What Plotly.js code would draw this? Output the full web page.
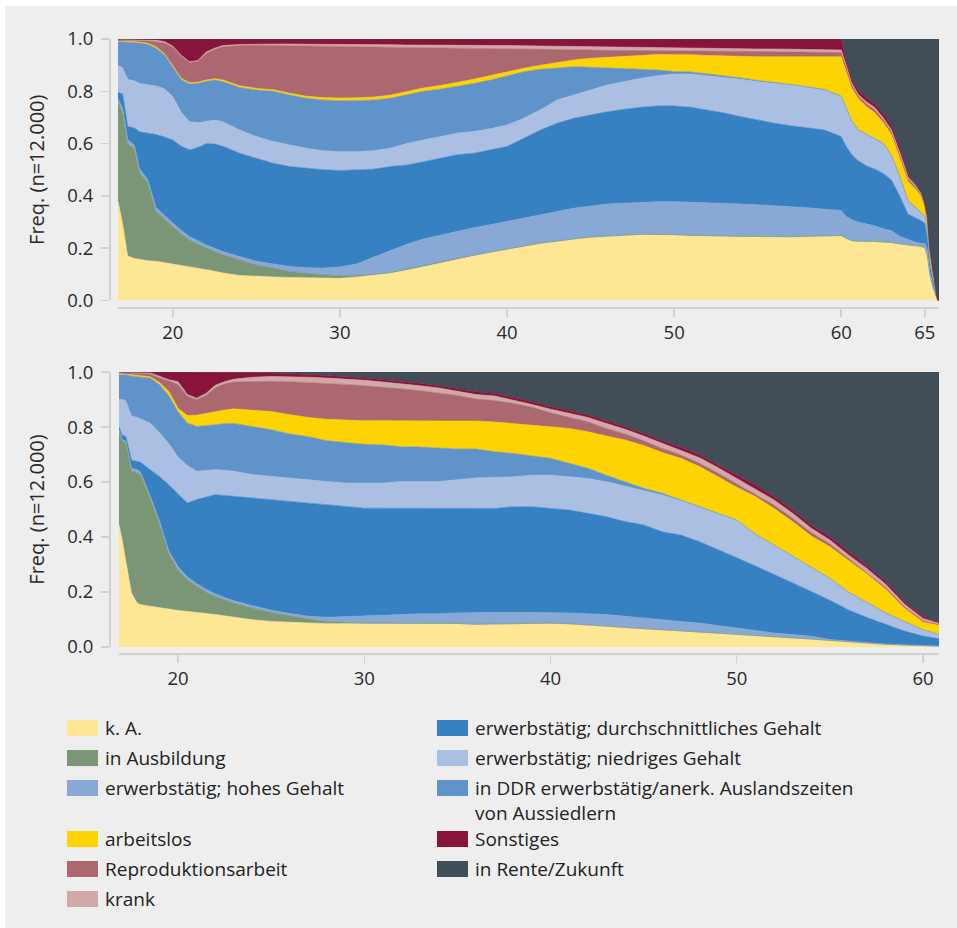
<!DOCTYPE html>
<html>
<head>
<meta charset="utf-8">
<script src="https://cdn.plot.ly/plotly-3.0.1.min.js"></script>
<style>
html,body{margin:0;padding:0;background:#ffffff;}
#chart{position:absolute;left:5px;top:6px;width:952px;height:922px;}
</style>
</head>
<body>
<div id="chart"></div>
<script>
// ---------------- DATA ----------------
// State categories (stack order, bottom to top)
const stateNames = [
  'k. A.',
  'in Ausbildung',
  'erwerbstätig; hohes Gehalt',
  'erwerbstätig; durchschnittliches Gehalt',
  'erwerbstätig; niedriges Gehalt',
  'in DDR erwerbstätig/anerk. Auslandszeiten<br>von Aussiedlern',
  'arbeitslos',
  'Reproduktionsarbeit',
  'krank',
  'Sonstiges',
  'in Rente/Zukunft'
];
const stateColors = ['#fde694','#7b9677','#88a9d6','#3781c3','#aabfe2','#6193cb',
                     '#fdd300','#ab6870','#d3a8a9','#88133b','#414e58'];

// Top panel: age (years) and cumulative share (upper edge of each state band)
const topAges = [16.72,17,17.3,17.7,18,18.5,19,19.5,20,20.5,21,21.5,22,22.5,23,
  24,25,26,27,28,29,30,31,32,33,34,35,36,37,38,39,40,41,42,43,44,45,46,47,48,49,50,51,52,53,54,55,56,57,58,59,60,
  60.3,60.6,61,61.5,62,62.5,63,63.5,64,64.5,64.8,65,
  65.15,65.3,65.5,65.7,65.78,65.85];
const topKA = [.38,.29,.17,.16,.158,.152,.15,.145,.14,.135,.13,.125,.118,.112,.105,
  .096,.092,.09,.088,.087,.085,.085,.09,.096,.104,.116,.13,.143,.157,.17,.183,.194,.206,.217,.225,.234,.24,.245,.248,.251,.251,.25,.247,.246,.245,.243,.242,.241,.242,.244,.245,.247,
  .236,.228,.225,.225,.224,.222,.22,.215,.21,.207,.205,.2,
  .168,.098,.046,.008,0,0];
const topAusb = [.76,.716,.60,.58,.49,.45,.34,.31,.283,.255,.232,.215,.2,.188,.175,
  .155,.136,.124,.111,.104,.098,.094,.097,.1,.107,.12,.134,.148,.162,.174,.187,.198,.209,.22,.228,.237,.243,.247,.25,.253,.253,.252,.249,.248,.247,.245,.244,.243,.244,.246,.247,.249,
  .238,.23,.227,.227,.226,.224,.222,.217,.212,.209,.207,.202,
  .17,.1,.047,.009,0,0];
const topHoch = [.77,.735,.615,.595,.505,.462,.355,.325,.297,.268,.245,.228,.212,.2,.187,
  .168,.15,.14,.13,.125,.124,.128,.14,.165,.19,.215,.235,.25,.265,.278,.29,.302,.315,.327,.34,.353,.362,.369,.372,.376,.378,.378,.376,.375,.372,.369,.366,.363,.36,.355,.349,.344,
  .321,.31,.3,.292,.286,.274,.267,.245,.232,.222,.218,.219,
  .193,.11,.053,.01,0,0];
const topDurch = [.795,.79,.665,.66,.645,.64,.635,.625,.614,.59,.576,.585,.6,.598,.59,
  .563,.544,.525,.512,.506,.5,.497,.5,.502,.512,.518,.531,.544,.557,.563,.575,.589,.62,.652,.678,.697,.709,.722,.731,.739,.744,.744,.739,.729,.717,.703,.69,.678,.668,.659,.652,.627,
  .589,.56,.535,.515,.503,.486,.461,.4,.33,.315,.305,.295,
  .244,.142,.072,.014,0,0];
const topNiedrig = [.9,.89,.845,.84,.83,.825,.82,.81,.78,.72,.684,.68,.684,.69,.684,
  .652,.627,.608,.595,.582,.573,.569,.569,.573,.582,.6,.614,.627,.64,.646,.657,.671,.697,.729,.767,.786,.805,.824,.837,.85,.859,.866,.866,.859,.854,.846,.837,.831,.824,.815,.805,.78,
  .735,.69,.652,.635,.617,.6,.555,.474,.38,.35,.33,.321,
  .27,.155,.081,.016,0,0];
const topDDR = [.99,.988,.988,.987,.985,.98,.965,.94,.894,.845,.828,.83,.838,.843,.837,
  .815,.805,.8,.786,.773,.767,.764,.764,.767,.773,.786,.8,.808,.818,.83,.843,.859,.875,.884,.888,.894,.892,.89,.888,.884,.881,.876,.874,.867,.86,.851,.841,.834,.826,.817,.807,.782,
  .737,.692,.654,.637,.619,.602,.557,.476,.382,.352,.332,.323,
  .272,.157,.082,.017,0,0];
const topArb = [.992,.99,.99,.99,.988,.984,.97,.944,.898,.85,.833,.835,.843,.848,.843,
  .821,.811,.806,.793,.781,.776,.774,.775,.778,.785,.799,.813,.822,.833,.846,.86,.875,.888,.9,.91,.92,.926,.93,.935,.939,.941,.94,.94,.937,.935,.932,.932,.932,.932,.932,.932,.932,
  .875,.815,.773,.742,.718,.682,.635,.545,.455,.423,.397,.358,
  .302,.18,.098,.019,0,0];
const topRepro = [.996,.995,.995,.995,.994,.993,.99,.985,.97,.935,.91,.915,.945,.96,.97,
  .975,.976,.975,.974,.973,.972,.971,.97,.969,.968,.967,.967,.966,.966,.965,.964,.963,.962,.961,.96,.959,.958,.957,.956,.956,.955,.955,.955,.954,.953,.953,.952,.952,.951,.951,.95,.948,
  .893,.828,.783,.752,.73,.692,.645,.557,.465,.43,.402,.362,
  .308,.184,.1,.02,0,0];
const topKrank = [.998,.998,.998,.998,.997,.996,.995,.99,.973,.938,.913,.918,.95,.965,.975,
  .979,.98,.981,.981,.98,.98,.979,.979,.978,.978,.977,.977,.977,.976,.976,.976,.975,.974,.973,.972,.971,.97,.969,.968,.967,.966,.965,.965,.964,.963,.963,.962,.962,.961,.961,.96,.958,
  .9,.836,.79,.76,.738,.7,.653,.567,.472,.436,.406,.365,
  .314,.188,.102,.02,0,0];
const topSonst = [1,1,1,1,1,1,1,1,1,1,1,1,1,1,1,
  1,1,1,1,1,1,1,1,1,1,1,1,1,1,1,1,1,1,1,1,1,1,1,1,1,1,1,1,1,1,1,1,1,1,1,1,1,
  .915,.85,.805,.775,.752,.715,.67,.585,.485,.442,.412,.37,
  .321,.193,.104,.021,0,0];

// Bottom panel
const botAges = [16.83,17,17.2,17.5,17.8,18,18.5,19,19.5,20,20.5,21,21.5,22,22.5,23,
  24,25,26,27,28,29,30,31,32,33,34,35,36,37,38,39,40,41,42,43,44,45,46,47,48,49,50,51,52,53,54,55,56,57,58,59,60,
  60.86];
const botKA = [.445,.39,.31,.196,.16,.154,.148,.142,.138,.133,.13,.126,.122,.118,.113,.109,
  .099,.093,.09,.087,.085,.085,.085,.085,.085,.084,.084,.084,.081,.082,.083,.084,.085,.083,.078,.074,.069,.065,.061,.057,.053,.048,.044,.04,.035,.031,.027,.022,.017,.012,.008,.006,.004,
  .002];
const botAusb = [.784,.75,.742,.64,.635,.625,.54,.451,.34,.281,.245,.221,.2,.184,.172,.16,
  .142,.126,.114,.102,.093,.09,.087,.087,.087,.086,.086,.086,.083,.084,.085,.086,.087,.085,.08,.076,.071,.067,.063,.059,.055,.05,.046,.042,.037,.033,.029,.024,.019,.014,.01,.007,.005,
  .003];
const botHoch = [.79,.755,.748,.65,.645,.635,.55,.46,.35,.292,.255,.23,.21,.193,.18,.168,
  .15,.134,.122,.112,.108,.11,.112,.114,.118,.121,.121,.124,.126,.126,.126,.126,.126,.124,.121,.118,.112,.105,.099,.093,.087,.078,.069,.061,.051,.045,.039,.027,.021,.015,.011,.008,.006,
  .004];
const botDurch = [.802,.77,.766,.68,.675,.672,.645,.62,.59,.556,.524,.536,.545,.554,.551,.548,
  .542,.536,.53,.524,.518,.512,.505,.505,.505,.505,.505,.505,.506,.504,.51,.51,.504,.498,.486,.474,.456,.444,.419,.407,.383,.355,.325,.295,.265,.235,.202,.17,.135,.107,.082,.058,.04,
  .03];
const botNiedrig = [.9,.9,.895,.84,.835,.83,.815,.78,.74,.69,.66,.639,.643,.645,.643,.639,
  .627,.62,.615,.608,.602,.596,.596,.596,.602,.602,.602,.608,.615,.617,.619,.625,.625,.619,.613,.601,.585,.568,.553,.532,.509,.485,.461,.41,.37,.329,.292,.249,.199,.161,.123,.092,.062,
  .045];
const botDDR = [.99,.99,.99,.985,.983,.982,.978,.955,.915,.855,.815,.802,.806,.81,.812,.813,
  .802,.79,.775,.765,.75,.744,.737,.735,.728,.727,.724,.72,.72,.71,.704,.695,.686,.668,.65,.625,.601,.577,.559,.535,.51,.486,.462,.411,.371,.33,.293,.25,.2,.162,.124,.093,.063,
  .046];
const botArb = [.995,.994,.993,.99,.988,.987,.983,.962,.93,.868,.842,.843,.85,.856,.862,.866,
  .862,.856,.845,.835,.828,.825,.823,.823,.822,.822,.822,.822,.822,.818,.813,.807,.801,.795,.783,.767,.753,.733,.707,.686,.656,.619,.581,.547,.504,.456,.404,.365,.314,.265,.21,.141,.09,
  .079];
const botRepro = [.998,.997,.997,.996,.995,.995,.993,.978,.968,.955,.912,.9,.915,.943,.957,.964,
  .966,.966,.965,.962,.958,.955,.95,.945,.939,.932,.924,.915,.902,.896,.886,.872,.852,.835,.819,.795,.775,.75,.722,.698,.668,.632,.593,.556,.516,.468,.416,.375,.322,.272,.216,.146,.095,
  .082];
const botKrank = [.999,.999,.999,.998,.998,.998,.997,.985,.972,.965,.918,.905,.922,.952,.965,.974,
  .981,.984,.983,.981,.978,.975,.97,.964,.958,.95,.942,.931,.918,.913,.898,.882,.865,.85,.835,.813,.792,.767,.741,.716,.688,.652,.613,.577,.535,.486,.432,.389,.335,.285,.228,.156,.104,
  .086];
const botSonst = [1,1,1,1,1,1,1,1,1,1,1,1,1,1,1,1,
  .999,.996,.994,.991,.987,.983,.978,.972,.966,.959,.95,.94,.928,.922,.907,.892,.874,.859,.844,.823,.801,.777,.75,.726,.698,.662,.625,.589,.547,.498,.444,.401,.347,.295,.238,.165,.112,
  .09];

const TOTAL = 1; // all states together
const topTicks = [20,30,40,50,60,65];
const topTickText = ['20','30','40','50','60','65'];
const botTicks = [20,30,40,50,60];
const botTickText = ['20','30','40','50','60'];
const yTicks = [0,0.2,0.4,0.6,0.8,1.0];
const yTickText = ['0.0','0.2','0.4','0.6','0.8','1.0'];
const yTitle = 'Freq. (n=12.000)';

// ---------------- BUILD ----------------
const topUpper = [topKA,topAusb,topHoch,topDurch,topNiedrig,topDDR,topArb,topRepro,topKrank,topSonst,topAges.map(()=>TOTAL)];
const botUpper = [botKA,botAusb,botHoch,botDurch,botNiedrig,botDDR,botArb,botRepro,botKrank,botSonst,botAges.map(()=>TOTAL)];

const traces = [];
function addPanel(ages, uppers, xa, ya){
  uppers.forEach((ys,i)=>{
    traces.push({
      x: ages, y: ys, type:'scatter', mode:'lines',
      line:{width:0.6, color:stateColors[i]},
      fill: i===0 ? 'tozeroy' : 'tonexty',
      fillcolor: stateColors[i],
      xaxis: xa, yaxis: ya, hoverinfo:'skip', showlegend:false, name: stateNames[i]
    });
  });
}
addPanel(topAges, topUpper, 'x', 'y');
addPanel(botAges, botUpper, 'x2', 'y2');

const W = 952, H = 922, ML = 105, MR = 18, MT = 33, MB = 274;
const PW = W-ML-MR, PH = H-MT-MB;
const OX = 5, OY = 6; // offset of the chart div in the page
function px(x){ return (x-OX-ML)/PW; }
function py(y){ return 1-(y-OY-MT)/PH; }

const font = '"Open Sans", "Noto Sans", sans-serif';
const axisCol = '#d2d2d2';
const tickFont = {family:font, size:18.5, color:'#2a2a2a'};

const commonX = {showgrid:false, zeroline:false, showline:true, linecolor:axisCol, linewidth:2,
  ticks:'outside', ticklen:8, tickwidth:1.5, tickcolor:axisCol, tickfont:tickFont, anchor:'free', fixedrange:true};
const commonY = {showgrid:false, zeroline:false, showline:true, linecolor:axisCol, linewidth:2,
  ticks:'outside', ticklen:8, tickwidth:1.5, tickcolor:axisCol, tickfont:tickFont, anchor:'free', position:0,
  ticklabelstandoff:4,
  range:[0,1], tickvals:yTicks, ticktext:yTickText, fixedrange:true,
  title:{text:yTitle, font:{family:font, size:20, color:'#2a2a2a'}, standoff:16}};

// legend built from category arrays
const leftCol = [0,1,2,6,7,8];
const rightCol = [3,4,5,9,10];
const rowY = [728,758,788,839,869,899];
const shapes = [], annotations = [];
function legendItem(idx, row, sx, tx){
  shapes.push({type:'rect', xref:'paper', yref:'paper', x0:px(sx), x1:px(sx+31), y0:py(rowY[row]-8), y1:py(rowY[row]+8),
    fillcolor:stateColors[idx], line:{width:0}});
  const multi = stateNames[idx].indexOf('<br>')>=0;
  annotations.push({xref:'paper', yref:'paper', x:px(tx), y: multi ? py(rowY[row]+12) : py(rowY[row]),
    xanchor:'left', yanchor:'middle', align:'left', showarrow:false, text:stateNames[idx],
    font:{family:font, size:19, color:'#222'}});
}
leftCol.forEach((idx,r)=>legendItem(idx,r,67,103));
rightCol.forEach((idx,r)=>legendItem(idx,r,437,473));

const layout = {
  width:W, height:H, margin:{l:ML, r:MR, t:MT, b:MB, pad:0},
  paper_bgcolor:'#eeeeee', plot_bgcolor:'#eeeeee', showlegend:false,
  xaxis: Object.assign({}, commonX, {domain:[0.00965,1], range:[16.72,65.85], tickvals:topTicks, ticktext:topTickText, position:0.5626}),
  yaxis: Object.assign({}, commonY, {domain:[0.5748,1]}),
  xaxis2: Object.assign({}, commonX, {domain:[0.01086,1], range:[16.83,60.86], tickvals:botTicks, ticktext:botTickText, position:0}),
  yaxis2: Object.assign({}, commonY, {domain:[0.01138,0.4585]}),
  shapes:shapes, annotations:annotations
};

Plotly.newPlot('chart', traces, layout, {displayModeBar:false, staticPlot:true});
</script>
</body>
</html>
